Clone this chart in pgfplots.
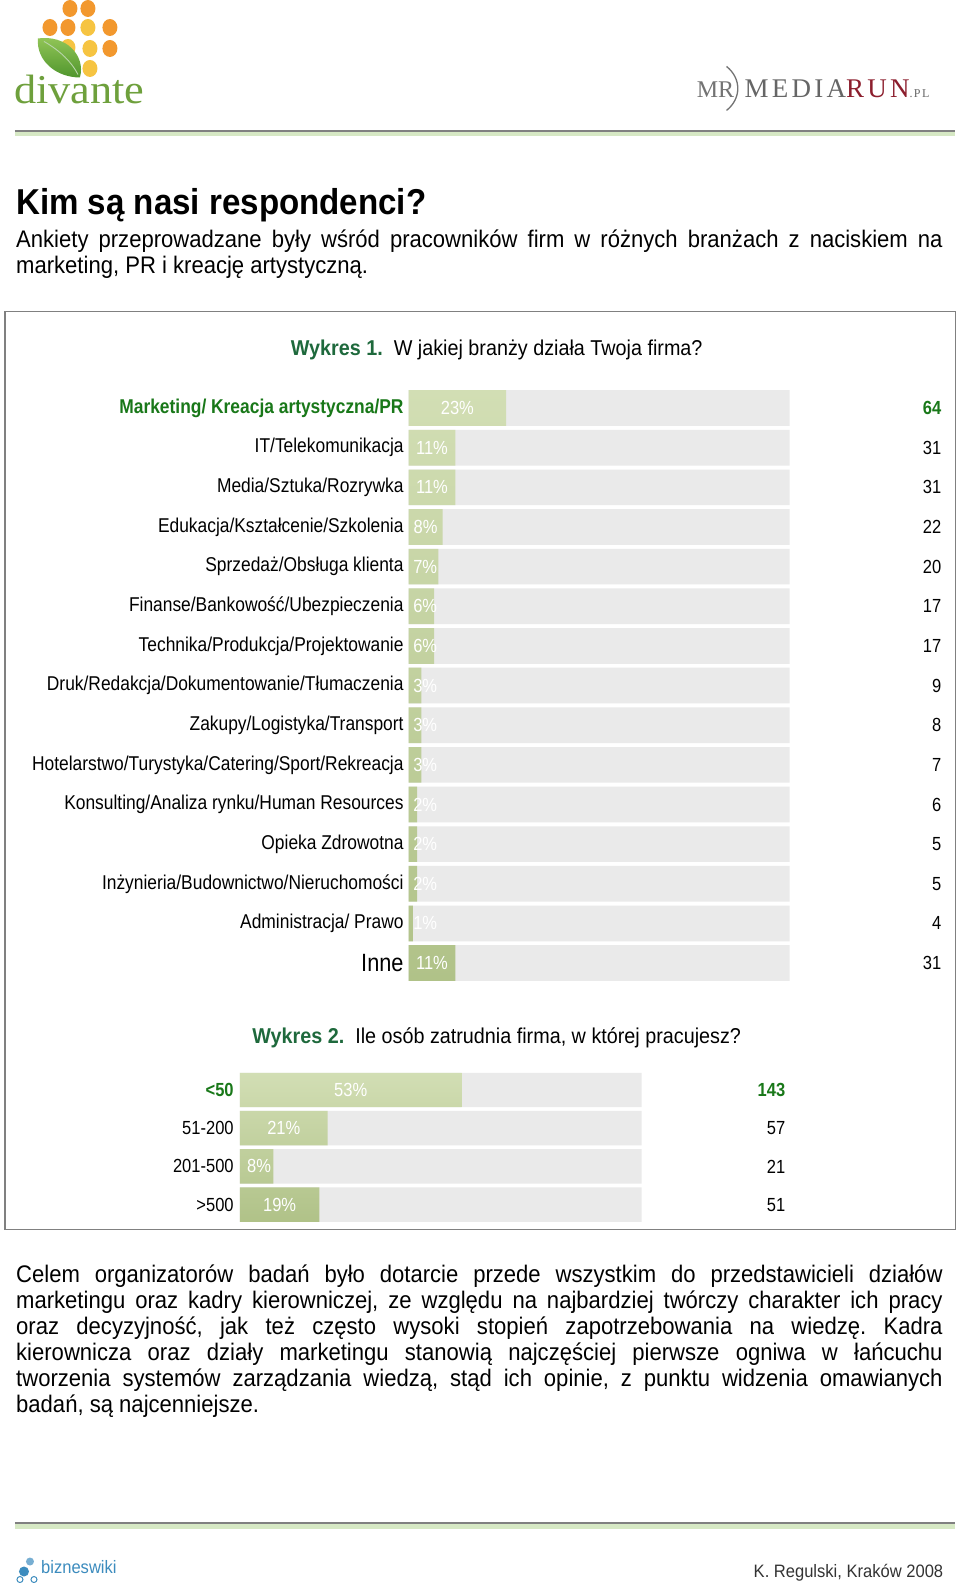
\documentclass[border=0pt]{standalone}
\usepackage{fontspec}
\setmainfont{Liberation Sans}[FakeStretch=0.92]
\newfontfamily\cond{Liberation Sans}[FakeStretch=0.87]
\newfontfamily\logoserif{Liberation Serif}
\newfontfamily\logowide{Liberation Serif}[FakeStretch=1.08]
\newfontfamily\logospaced{Liberation Serif}[LetterSpace=12]
\usepackage{pgfplots}
\pgfplotsset{compat=1.18}
\usepackage{pgfplotstable}
\definecolor{lgreen}{RGB}{25,120,25}
\definecolor{wgreen}{RGB}{30,105,60}
\definecolor{bartop}{RGB}{210,222,180}
\definecolor{barbot}{RGB}{176,194,136}
\definecolor{bggray}{RGB}{234,234,234}
\definecolor{rulegreen}{RGB}{214,232,196}
\definecolor{leaf}{RGB}{80,150,45}
\definecolor{leaflight}{RGB}{150,200,90}
\definecolor{divgreen}{RGB}{110,160,60}
\definecolor{dotor}{RGB}{242,152,46}
\definecolor{dotye}{RGB}{246,196,66}
\definecolor{runred}{RGB}{140,30,45}
\definecolor{bwblue}{RGB}{60,140,190}

\pgfplotstableread{
row pct n
0 23 64
1 11 31
2 11 31
3 8 22
4 7 20
5 6 17
6 6 17
7 3 9
8 3 8
9 3 7
10 2 6
11 2 5
12 2 5
13 1 4
14 11 31
}\tabA

\pgfplotstableread{
row pct n
0 53 143
1 21 57
2 8 21
3 19 51
}\tabB

\begin{document}
\frenchspacing
\begin{tikzpicture}
\fill[white] (0pt,0pt) rectangle (960pt,-1583pt);
\begin{scope}[x=1pt,y=-1pt]
% divante logo
\foreach \px/\py/\c in {70/8/dotor,88/8/dotor,50/27/dotor,68/27/dotor,88/27/dotye,110/27/dotor,68/47/dotye,90/48/dotye,110/48/dotor,90/68/dotye}
  \fill[\c] (\px,\py) ellipse (7.5 and 8.5);
\shade[top color=leaflight, bottom color=leaf] (38,38) .. controls (66,34) and (86,55) .. (80,77) .. controls (56,77) and (36,60) .. cycle;
\draw[white!60!leaf, line width=0.9] (44,41) .. controls (60,50) and (72,62) .. (78,74);
\node[anchor=base west, inner sep=0, font=\logowide\fontsize{41}{41}\selectfont, text=divgreen] at (14,103) {divante};
% mediarun logo
\node[anchor=base west, inner sep=0, font=\logoserif\fontsize{24}{24}\selectfont, text=black!55] at (697,97) {MR};
\draw[black!55, line width=1.3] (727,66) .. controls (742,78) and (742,98) .. (727,110);
\node[anchor=base west, inner sep=0, font=\logospaced\fontsize{27}{27}\selectfont, text=black!60] at (745,97) {MEDIA\textcolor{runred}{RUN}{\fontsize{12}{12}\selectfont .PL}};
% rules
\fill[rulegreen] (15,131) rectangle (956,136);
\draw[black!50, line width=1.2] (15,130.5) -- (956,130.5);
\fill[rulegreen] (15,1524) rectangle (956,1529);
\draw[black!50, line width=1.2] (15,1523.5) -- (956,1523.5);
% title and text
\node[anchor=base west, inner sep=0, font=\bfseries\fontsize{36}{40}\selectfont] at (16,214) {Kim są nasi respondenci?};
\node[anchor=base west, inner sep=0, font=\fontsize{24}{26}\selectfont] at (16,247) {\makebox[927pt][s]{Ankiety przeprowadzane były wśród pracowników firm w różnych branżach z naciskiem na}};
\node[anchor=base west, inner sep=0, font=\fontsize{24}{26}\selectfont] at (16,273) {marketing, PR i kreację artystyczną.};
% box
\draw[black!50, line width=1.3] (5,311) rectangle (956,1230);
\node[anchor=base, inner sep=0, font=\fontsize{21.5}{22}\selectfont] at (497,355) {\textcolor{wgreen}{\bfseries Wykres 1.}\ \ W jakiej branży działa Twoja firma?};
\node[anchor=base, inner sep=0, font=\fontsize{21.5}{22}\selectfont] at (497,1044) {\textcolor{wgreen}{\bfseries Wykres 2.}\ \ Ile osób zatrudnia firma, w której pracujesz?};
% paragraph 2
\foreach \yy/\tx in {1283/{Celem organizatorów badań było dotarcie przede wszystkim do przedstawicieli działów},
  1309/{marketingu oraz kadry kierowniczej, ze względu na najbardziej twórczy charakter ich pracy},
  1335/{oraz decyzyjność, jak też często wysoki stopień zapotrzebowania na wiedzę. Kadra},
  1361/{kierownicza oraz działy marketingu stanowią najczęściej pierwsze ogniwa w łańcuchu},
  1387/{tworzenia systemów zarządzania wiedzą, stąd ich opinie, z punktu widzenia omawianych}}
  \node[anchor=base west, inner sep=0, font=\fontsize{24}{26}\selectfont] at (16,\yy) {\makebox[927pt][s]{\tx}};
\node[anchor=base west, inner sep=0, font=\fontsize{24}{26}\selectfont] at (16,1413) {badań, są najcenniejsze.};
% footer
\fill[bwblue] (24,1572) circle (5);
\fill[bwblue!70] (30,1562) circle (4);
\draw[bwblue, line width=1] (20,1580) circle (3) (34,1580) circle (3);
\node[anchor=base west, inner sep=0, font=\fontsize{18}{18}\selectfont, text=bwblue] at (41,1574) {bizneswiki};
\node[anchor=base east, inner sep=0, font=\fontsize{18}{18}\selectfont, text=black!80] at (944,1578) {K. Regulski, Kraków 2008};
\end{scope}

% Chart 1
\begin{axis}[
  at={(409pt,-388pt)}, anchor=north west,
  scale only axis, width=381pt, height=595pt,
  xmin=0, xmax=90, ymin=-0.5, ymax=14.5, y dir=reverse,
  axis line style={draw=none}, major tick length=0pt,
  xtick=\empty, ytick={0,...,14},
  yticklabels={{\textcolor{lgreen}{\bfseries Marketing/ Kreacja artystyczna/PR}},
    IT/Telekomunikacja, Media/Sztuka/Rozrywka, Edukacja/Kształcenie/Szkolenia,
    Sprzedaż/Obsługa klienta, Finanse/Bankowość/Ubezpieczenia,
    Technika/Produkcja/Projektowanie, Druk/Redakcja/Dokumentowanie/Tłumaczenia,
    Zakupy/Logistyka/Transport, Hotelarstwo/Turystyka/Catering/Sport/Rekreacja,
    Konsulting/Analiza rynku/Human Resources, Opieka Zdrowotna,
    Inżynieria/Budownictwo/Nieruchomości, Administracja/ Prawo,
    {\fontsize{25}{25}\selectfont Inne}},
  yticklabel style={anchor=east, inner sep=0pt, xshift=-5pt, font=\cond\fontsize{20}{20}\selectfont},
  clip=false,
]
\addplot[xbar, bar shift=0pt, bar width=0.9, fill=bggray, draw=none] table[x expr=90, y=row] {\tabA};
\addplot[xbar, bar shift=0pt, bar width=0.9, top color=bartop, bottom color=barbot, draw=none] table[x=pct, y=row] {\tabA};
\addplot[draw=none, mark=none, point meta=explicit symbolic,
  nodes near coords={\pgfplotspointmeta\%},
  nodes near coords style={anchor=center, inner sep=0pt, text=white, font=\cond\fontsize{19}{19}\selectfont}]
  table[x expr={max(\thisrow{pct}/2,3.9)}, y=row, meta=pct] {\tabA};
\addplot[draw=none, mark=none, point meta=explicit symbolic,
  nodes near coords={\ifnum\pgfplotspointmeta=64\relax\textcolor{lgreen}{\bfseries\pgfplotspointmeta}\else\pgfplotspointmeta\fi},
  nodes near coords style={anchor=east, inner sep=0pt, xshift=152pt, font=\cond\fontsize{19}{19}\selectfont}]
  table[x expr=90, y=row, meta=n] {\tabA};
\end{axis}

% Chart 2
\begin{axis}[
  at={(240pt,-1071pt)}, anchor=north west,
  scale only axis, width=402pt, height=153pt,
  xmin=0, xmax=96, ymin=-0.5, ymax=3.5, y dir=reverse,
  axis line style={draw=none}, major tick length=0pt,
  xtick=\empty, ytick={0,...,3},
  yticklabels={{\textcolor{lgreen}{\bfseries <50}}, 51-200, 201-500, >500},
  yticklabel style={anchor=east, inner sep=0pt, xshift=-6pt, font=\cond\fontsize{19}{19}\selectfont},
  clip=false,
]
\addplot[xbar, bar shift=0pt, bar width=0.9, fill=bggray, draw=none] table[x expr=96, y=row] {\tabB};
\addplot[xbar, bar shift=0pt, bar width=0.9, top color=bartop, bottom color=barbot, draw=none] table[x=pct, y=row] {\tabB};
\addplot[draw=none, mark=none, point meta=explicit symbolic,
  nodes near coords={\pgfplotspointmeta\%},
  nodes near coords style={anchor=center, inner sep=0pt, text=white, font=\cond\fontsize{19}{19}\selectfont}]
  table[x expr={max(\thisrow{pct}/2,4.6)}, y=row, meta=pct] {\tabB};
\addplot[draw=none, mark=none, point meta=explicit symbolic,
  nodes near coords={\ifnum\pgfplotspointmeta=143\relax\textcolor{lgreen}{\bfseries\pgfplotspointmeta}\else\pgfplotspointmeta\fi},
  nodes near coords style={anchor=east, inner sep=0pt, xshift=144pt, font=\cond\fontsize{19}{19}\selectfont}]
  table[x expr=96, y=row, meta=n] {\tabB};
\end{axis}
\end{tikzpicture}
\end{document}
